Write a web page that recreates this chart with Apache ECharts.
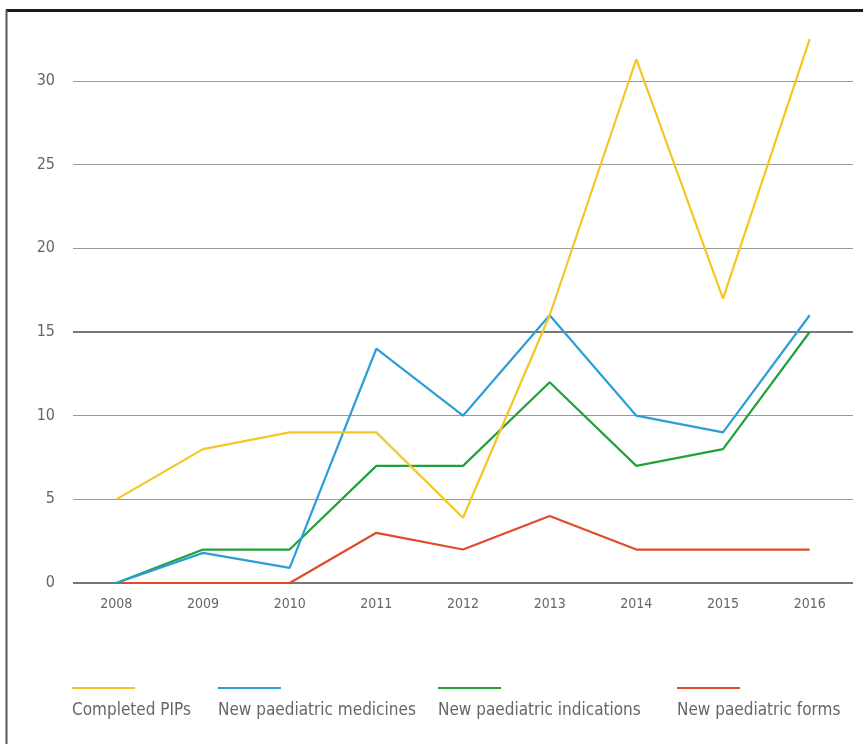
<!DOCTYPE html>
<html><head><meta charset="utf-8">
<script src="https://cdn.jsdelivr.net/npm/echarts@6/dist/echarts.min.js"></script>
<style>html,body{margin:0;padding:0;background:#fff}#c{width:863px;height:744px}</style>
</head><body><div id="c"></div>
<script>
const years = ['2008','2009','2010','2011','2012','2013','2014','2015','2016'];
const seriesNames = ['Completed PIPs','New paediatric medicines','New paediatric indications','New paediatric forms'];
const completedPIPs = [5, 8, 9, 9, 3.9, 16, 31.3, 17, 32.5];
const newMedicines = [0, 1.8, 0.9, 14, 10, 16, 10, 9, 16];
const newIndications = [0, 2, 2, 7, 7, 12, 7, 8, 15];
const newForms = [0, 0, 0, 3, 2, 4, 2, 2, 2];
const yTicks = [0, 5, 10, 15, 20, 25, 30];
const colors = ['#f5c623', '#2b9ed8', '#22a03a', '#e04a2a'];
const legendX = [72, 218, 438, 677];

const font = '"Liberation Sans Narrow", "DejaVu Sans Condensed", sans-serif';
const chart = echarts.init(document.getElementById('c'));
const dataSets = [completedPIPs, newMedicines, newIndications, newForms];

const graphics = [
  {type:'line', shape:{x1:6,y1:10.5,x2:863,y2:10.5}, style:{stroke:'#1a1a1a', lineWidth:3}},
  {type:'line', shape:{x1:6.5,y1:10,x2:6.5,y2:744}, style:{stroke:'#555', lineWidth:2}}
];
seriesNames.forEach((n,i)=>{
  graphics.push({type:'line', shape:{x1:legendX[i],y1:688,x2:legendX[i]+63,y2:688}, style:{stroke:colors[i], lineWidth:2}});
  graphics.push({type:'text', x:legendX[i], y:711, style:{text:n, fill:'#666', font:'17px '+font, textVerticalAlign:'middle'}});
});

chart.setOption({
  animation:false,
  grid:{left:73, right:10, top:81, bottom:161},
  xAxis:{type:'category', data:years, boundaryGap:true,
    axisLine:{show:false}, axisTick:{show:false},
    axisLabel:{color:'#666', fontFamily:font, fontSize:14, margin:14}},
  yAxis:{type:'value', min:0, max:30, interval:5,
    axisLine:{show:false}, axisTick:{show:false},
    axisLabel:{color:'#666', fontFamily:font, fontSize:16, margin:18},
    splitLine:{lineStyle:{color:'#999', width:1}}},
  graphic:graphics,
  series: seriesNames.map((n,i)=>({
    name:n, type:'line', data:dataSets[i], clip:false, symbol:'none',
    lineStyle:{color:colors[i], width:2.2}, itemStyle:{color:colors[i]},
    z: 10-i,
    markLine: i===0 ? {silent:true, symbol:'none', label:{show:false},
      lineStyle:{color:'#777', width:2, type:'solid'},
      data:[{yAxis:15},{yAxis:0}]} : undefined
  }))
});
</script></body></html>
